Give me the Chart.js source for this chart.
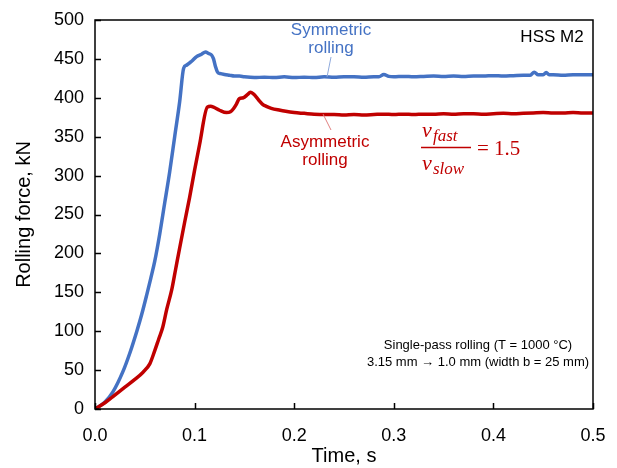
<!DOCTYPE html>
<html>
<head>
<meta charset="utf-8">
<script src="https://cdn.jsdelivr.net/npm/chart.js@4.4.1/dist/chart.umd.min.js"></script>
<style>
  body { margin: 0; background: #fff; }
  #wrap { width: 617px; height: 468px; position: relative; }
</style>
</head>
<body>
<div id="wrap"><canvas id="chart" width="617" height="468"></canvas></div>
<script>
// Rolling force vs time, HSS M2
let xTicks = [0.0, 0.1, 0.2, 0.3, 0.4, 0.5];
let yTicks = [0, 50, 100, 150, 200, 250, 300, 350, 400, 450, 500];

let timeSym = [0, 0.01, 0.018, 0.028, 0.035, 0.042, 0.047, 0.052, 0.056, 0.060, 0.065, 0.070, 0.075, 0.080, 0.085, 0.089,
    0.092, 0.097, 0.102, 0.107, 0.111, 0.114, 0.117, 0.119, 0.121, 0.123, 0.126, 0.130, 0.135, 0.140, 0.145,
    0.15, 0.16, 0.17, 0.18, 0.19, 0.20, 0.21, 0.22, 0.23, 0.24, 0.25, 0.26, 0.27, 0.28, 0.285, 0.29, 0.295,
    0.30, 0.31, 0.32, 0.33, 0.34, 0.35, 0.36, 0.37, 0.38, 0.39, 0.40, 0.41, 0.42, 0.43, 0.437, 0.441, 0.445,
    0.45, 0.453, 0.456, 0.46, 0.47, 0.48, 0.49, 0.50];
let forceSym = [0, 9, 22, 48, 72, 100, 122, 147, 168, 190, 225, 265, 305, 350, 395, 438,
    442, 447, 453, 456, 459, 457, 455, 450, 440, 433, 431, 430, 429, 428, 428,
    427, 426, 426.5, 426, 427, 426, 426.5, 426, 427, 426.5, 427, 427, 426.5, 427, 427, 430, 427.5,
    427, 427.5, 427, 427.5, 428, 427.5, 428, 427.5, 428, 428, 428.5, 428, 428.5, 429, 429, 433, 429.5,
    429.5, 432.5, 429.5, 429.5, 429, 429.5, 429.5, 429.5];

let timeAsym = [0, 0.01, 0.018, 0.03, 0.04, 0.048, 0.055, 0.060, 0.064, 0.068, 0.072, 0.077, 0.081, 0.085, 0.090,
    0.095, 0.100, 0.105, 0.1128, 0.116, 0.119, 0.125, 0.132, 0.136, 0.139, 0.142, 0.145, 0.149, 0.153, 0.156,
    0.159, 0.162, 0.165, 0.168, 0.172, 0.177, 0.186, 0.19, 0.20, 0.21, 0.22, 0.23, 0.24, 0.25, 0.26, 0.27,
    0.28, 0.29, 0.30, 0.31, 0.32, 0.33, 0.34, 0.35, 0.36, 0.37, 0.38, 0.39, 0.40, 0.41, 0.42, 0.43, 0.44,
    0.45, 0.46, 0.47, 0.48, 0.49, 0.50];
let forceAsym = [0, 8, 16, 28, 38, 47, 58, 75, 90, 105, 128, 153, 180, 207, 240,
    272, 307, 340, 388, 389, 388, 384, 381, 382, 386, 392, 399, 400, 404, 407,
    405, 401, 396, 392, 389, 386.5, 384, 383, 381, 380, 379, 378.5, 378.5, 378, 378.5, 378,
    378.5, 379, 378.5, 379, 378.5, 379, 379, 379.5, 379, 379.5, 379.5, 379, 379.5, 380, 379.5, 380, 380.5,
    381, 380.5, 380.5, 381, 380.5, 380.5];

let blue = '#4472C4';
let red = '#C00000';
let sans = '"Liberation Sans", Arial, sans-serif';
let serif = '"Liberation Serif", "DejaVu Serif", serif';

function toPoints(xs, ys) {
    return xs.map(function (x, i) { return { x: x, y: ys[i] }; });
}

// frame, inward ticks and the text notes
let decorations = {
    id: 'decorations',
    afterDraw: function (chart) {
        let ctx = chart.ctx;
        let area = chart.chartArea;
        let xs = chart.scales.x;
        let ys = chart.scales.y;
        ctx.save();
        ctx.strokeStyle = '#000';
        ctx.lineWidth = 1.5;
        ctx.strokeRect(area.left, area.top, area.right - area.left, area.bottom - area.top);
        ctx.beginPath();
        yTicks.forEach(function (v) {
            let p = Math.round(ys.getPixelForValue(v)) + 0.5;
            ctx.moveTo(area.left, p);
            ctx.lineTo(area.left + 6, p);
        });
        xTicks.forEach(function (v) {
            let p = Math.round(xs.getPixelForValue(v)) + 0.5;
            ctx.moveTo(p, area.bottom);
            ctx.lineTo(p, area.bottom - 6);
        });
        ctx.stroke();

        // leader lines from labels to curves
        ctx.lineWidth = 1;
        ctx.strokeStyle = '#8FAADC';
        ctx.beginPath();
        ctx.moveTo(331, 57);
        ctx.lineTo(xs.getPixelForValue(0.233), ys.getPixelForValue(427));
        ctx.stroke();
        ctx.strokeStyle = '#E08080';
        ctx.beginPath();
        ctx.moveTo(xs.getPixelForValue(0.229), ys.getPixelForValue(379));
        ctx.lineTo(331, 130);
        ctx.stroke();

        ctx.textAlign = 'center';
        ctx.textBaseline = 'middle';
        ctx.font = '17px ' + sans;
        ctx.fillStyle = blue;
        ctx.fillText('Symmetric', 331, 30);
        ctx.fillText('rolling', 331, 48);
        ctx.fillStyle = red;
        ctx.fillText('Asymmetric', 325, 142);
        ctx.fillText('rolling', 325, 160);
        ctx.fillStyle = '#000';
        ctx.fillText('HSS M2', 552, 37);

        ctx.font = '13px ' + sans;
        ctx.fillText('Single-pass rolling (T = 1000 \u00B0C)', 478, 345);
        ctx.fillText('3.15 mm \u2192 1.0 mm (width b = 25 mm)', 478, 362);

        // v_fast / v_slow = 1.5
        ctx.fillStyle = red;
        ctx.strokeStyle = red;
        ctx.textAlign = 'left';
        ctx.textBaseline = 'alphabetic';
        ctx.font = 'italic 22px ' + serif;
        ctx.fillText('v', 422, 137);
        ctx.fillText('v', 422, 170);
        ctx.font = 'italic 17px ' + serif;
        ctx.fillText('fast', 433, 141);
        ctx.fillText('slow', 433, 174);
        ctx.lineWidth = 1.3;
        ctx.beginPath();
        ctx.moveTo(421, 147.5);
        ctx.lineTo(471, 147.5);
        ctx.stroke();
        ctx.font = '21px ' + serif;
        ctx.fillText('= 1.5', 477, 155);
        ctx.restore();
    }
};

let ctx = document.getElementById('chart');
let chart = new Chart(ctx, {
    type: 'line',
    data: {
        datasets: [
            {
                label: 'Symmetric rolling',
                data: toPoints(timeSym, forceSym),
                borderColor: blue,
                borderWidth: 3.5,
                pointRadius: 0,
                cubicInterpolationMode: 'monotone',
                order: 2
            },
            {
                label: 'Asymmetric rolling',
                data: toPoints(timeAsym, forceAsym),
                borderColor: red,
                borderWidth: 3.5,
                pointRadius: 0,
                cubicInterpolationMode: 'monotone',
                order: 1
            }
        ]
    },
    options: {
        responsive: false,
        animation: false,
        layout: { padding: { top: 20, right: 24, left: 0, bottom: 0 } },
        plugins: {
            legend: { display: false },
            tooltip: { enabled: false }
        },
        scales: {
            x: {
                type: 'linear',
                min: 0,
                max: 0.5,
                afterBuildTicks: function (scale) {
                    scale.ticks = xTicks.map(function (v) { return { value: v }; });
                },
                afterFit: function (scale) {
                    scale.height = 59;
                    scale.paddingLeft = 0;
                    scale.paddingRight = 0;
                },
                grid: { display: false, drawTicks: false },
                border: { display: false },
                ticks: {
                    color: '#000',
                    font: { size: 18, family: sans },
                    padding: 16,
                    maxRotation: 0,
                    callback: function (v) { return v.toFixed(1); }
                },
                title: {
                    display: true,
                    text: 'Time, s',
                    color: '#000',
                    font: { size: 20, family: sans },
                    padding: { top: 0, bottom: 0 }
                }
            },
            y: {
                min: 0,
                max: 500,
                afterBuildTicks: function (scale) {
                    scale.ticks = yTicks.map(function (v) { return { value: v }; });
                },
                afterFit: function (scale) {
                    scale.width = 95;
                    scale.paddingTop = 0;
                    scale.paddingBottom = 0;
                },
                grid: { display: false, drawTicks: false },
                border: { display: false },
                ticks: {
                    color: '#000',
                    font: { size: 18, family: sans },
                    padding: 11
                },
                title: {
                    display: true,
                    text: 'Rolling force, kN',
                    color: '#000',
                    font: { size: 20, family: sans },
                    padding: { top: 12, bottom: 0 }
                }
            }
        }
    },
    plugins: [decorations]
});
</script>
</body>
</html>
